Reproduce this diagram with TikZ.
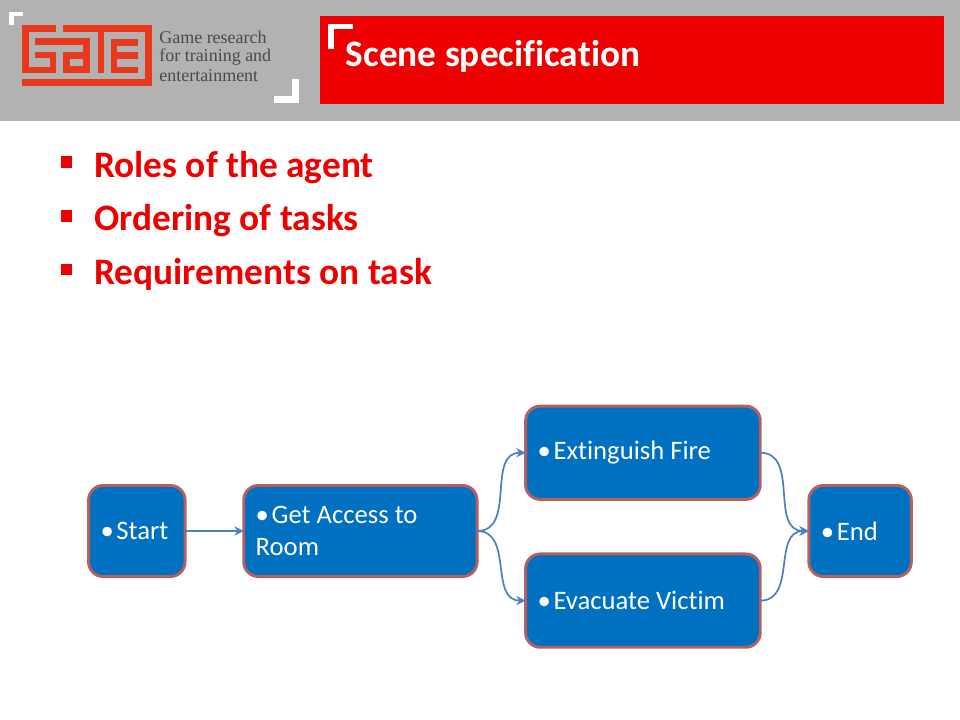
\documentclass[tikz,border=0pt]{standalone}
\usepackage{fontspec}
\setmainfont[Ligatures=NoCommon]{Carlito}
\newfontfamily\logofont{Liberation Serif}
\usetikzlibrary{positioning,arrows.meta}
\definecolor{bannergray}{HTML}{B2B2B2}
\definecolor{titlered}{HTML}{EE0000}
\definecolor{logored}{HTML}{E8391C}
\definecolor{logotext}{HTML}{4A4A4A}
\definecolor{taskblue}{HTML}{0070C0}
\definecolor{taskline}{HTML}{B5605F}
\definecolor{linkblue}{HTML}{4F81BD}
\tikzset{
	taskbox/.style={draw=taskline, fill=taskblue, line width=2.2pt, rounded corners=11pt, text=white, font=\fontsize{20}{24}\selectfont, align=flush left, inner xsep=9pt, inner ysep=0pt, outer sep=0pt, minimum height=68.3pt},
	link/.style={draw=linkblue, line width=1.3pt, -{Stealth[length=7pt,width=7pt]}},
	squarebullet/.style={fill=titlered, inner sep=0pt, minimum size=8.3pt},
	pointtext/.style={anchor=base west, inner sep=0pt, text=titlered, font=\fontsize{28}{32}\selectfont\bfseries},
	logoline/.style={anchor=base west, inner sep=0pt, text=logotext, font=\logofont\fontsize{13.5}{16}\selectfont}
}
\newcommand{\taskdot}{\textbullet\hspace{2pt}}
\begin{document}
\begin{tikzpicture}[x=0.75pt,y=-0.75pt]
	\useasboundingbox (0,0) rectangle (960,720);
	\fill[bannergray] (0,0) rectangle (960,121);
	\fill[titlered] (320,16) rectangle (944,104);

	\fill[white] (9.3,12.3) rectangle (23.3,16.5);
	\fill[white] (9.3,12.3) rectangle (14,25.3);
	\fill[white] (274.3,95.7) rectangle (298.7,102.7);
	\fill[white] (291.7,78.7) rectangle (298.7,102.7);
	\fill[white] (328,24) rectangle (353,29.5);
	\fill[white] (328,24) rectangle (333.5,49);

	\fill[logored] (22.3,25.3) rectangle (56.3,31.8);
	\fill[logored] (22.3,25.3) rectangle (29,72.7);
	\fill[logored] (22.3,66.7) rectangle (55.5,72.7);
	\fill[logored] (49.5,52.3) rectangle (55.5,72.7);
	\fill[logored] (35.3,52.3) rectangle (55.5,58.3);
	\fill[logored] (35.3,38.5) rectangle (90,45);
	\fill[logored] (83.3,38.5) rectangle (90,72.7);
	\fill[logored] (62.7,52) rectangle (90,59);
	\fill[logored] (62.7,66.5) rectangle (90,72.7);
	\fill[logored] (62.7,52) rectangle (70,72.7);
	\fill[logored] (62.7,25.3) rectangle (151.7,32);
	\fill[logored] (97.5,25.3) rectangle (103.5,72.7);
	\fill[logored] (145,25.3) rectangle (151.7,86.3);
	\fill[logored] (22.3,79.3) rectangle (151.7,86.3);
	\fill[logored] (110.7,39) rectangle (137.7,45.7);
	\fill[logored] (110.7,52.3) rectangle (137.7,59);
	\fill[logored] (110.7,66.7) rectangle (137.7,73.3);
	\fill[logored] (110.7,39) rectangle (117.3,73.3);

	\node[logoline] (logoa) at (159,43.3) {Game research};
	\node[logoline] (logob) at (159,62) {for training and};
	\node[logoline] (logoc) at (159,81.7) {entertainment};

	\node[anchor=base west, inner sep=0pt, text=white, font=\fontsize{28}{32}\selectfont\bfseries] (title) at (345.5,66.5) {Scene specification};

	\node[squarebullet] (bulleta) at (66.5,162) {};
	\node[pointtext] (roles) at (94,177.2) {Roles of the agent};
	\node[squarebullet] (bulletb) at (66.5,216) {};
	\node[pointtext] (ordering) at (94,230.7) {Ordering of tasks};
	\node[squarebullet] (bulletc) at (66.5,269.5) {};
	\node[pointtext] (requirements) at (94,284.2) {Requirements on task};

	\node[taskbox, minimum width=72.4pt, text width=54.4pt] (start) at (136.8,531) {\taskdot Start};
	\node[taskbox, minimum width=175pt, text width=157pt, right=44pt of start] (access) {\taskdot Get Access to\\Room};
	\node[taskbox, minimum width=176pt, text width=158pt, minimum height=70pt, right=36.4pt of access, yshift=58.7pt] (fire) {\taskdot Extinguish Fire};
	\node[taskbox, minimum width=176pt, text width=158pt, minimum height=70pt, below=40.9pt of fire] (victim) {\taskdot Evacuate Victim};
	\node[taskbox, minimum width=76.9pt, text width=58.9pt, right=36.4pt of fire, yshift=-58.7pt] (end) {\taskdot End};

	\draw[link] (start) -- (access);
	\draw[link] (access.east) to[out=0,in=180,looseness=1.1] (fire.west);
	\draw[link] (access.east) to[out=0,in=180,looseness=1.1] (victim.west);
	\draw[link] (fire.east) to[out=0,in=180,looseness=1.1] (end.west);
	\draw[link] (victim.east) to[out=0,in=180,looseness=1.1] (end.west);
\end{tikzpicture}
\end{document}
